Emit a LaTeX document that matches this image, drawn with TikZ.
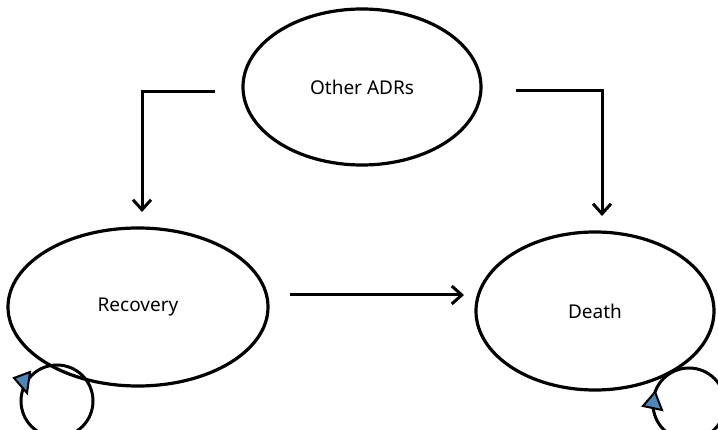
\documentclass[tikz,border=0pt]{standalone}
\usepackage{fontspec}
\setmainfont{Noto Sans}
\usetikzlibrary{shapes.geometric,arrows.meta}
\begin{document}
\begin{tikzpicture}[x=1pt,y=-1pt,
  state/.style={draw=black,line width=3.2pt,ellipse,inner sep=0pt,font=\fontsize{19}{24}\selectfont},
  conn/.style={draw=black,line width=3pt,-{Straight Barb[length=10pt,width=18pt,line width=3pt]}},
  loop/.style={draw=black,line width=3pt},
  tip/.style={draw=black,line width=2pt,fill=blue!45!cyan!60!black!70,line join=miter}]
\useasboundingbox[fill=white] (0,0) rectangle (718,430);
\node[state,minimum width=238pt,minimum height=156pt] (adr) at (362,87) {Other ADRs};
\node[state,minimum width=260pt,minimum height=158pt] (rec) at (138,307) {Recovery};
\node[state,minimum width=238pt,minimum height=158pt] (dea) at (595,311) {Death};
\coordinate (a1) at (215,92);
\coordinate (a2) at (142,92);
\coordinate (a3) at (142,212);
\coordinate (b1) at (516,91);
\coordinate (b2) at (602,91);
\coordinate (b3) at (602,216);
\coordinate (c1) at (290,295);
\coordinate (c2) at (464,295);
\draw[conn] (a1) -- (a2) -- (a3);
\draw[conn] (b1) -- (b2) -- (b3);
\draw[conn] (c1) -- (c2);
\node[loop,circle,minimum size=72pt,inner sep=0pt] (lr) at (57,401) {};
\node[loop,circle,minimum size=72pt,inner sep=0pt] (ld) at (689,404) {};
\filldraw[tip] (14,378) -- (30,372) -- (27,393) -- cycle;
\filldraw[tip] (643,406) -- (655,392) -- (662,410) -- cycle;
\end{tikzpicture}
\end{document}
